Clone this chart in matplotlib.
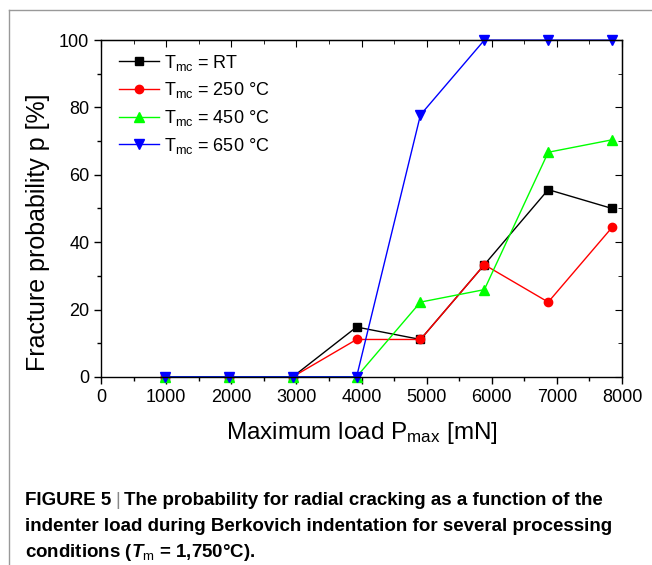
import numpy as np
import matplotlib
matplotlib.use("Agg")
import matplotlib.pyplot as plt
from matplotlib.ticker import MultipleLocator

plt.rcParams['font.family'] = ['Liberation Sans', 'DejaVu Sans']
plt.rcParams['mathtext.fontset'] = 'custom'
plt.rcParams['mathtext.rm'] = 'Liberation Sans'
plt.rcParams['mathtext.it'] = 'Liberation Sans:italic:bold'
plt.rcParams['mathtext.bf'] = 'Liberation Sans:bold'

## donnees (charge en mN, probabilite en %)
charge = [981, 1962, 2943, 3924, 4905, 5886, 6867, 7848]
p_rt = [0, 0, 0, 14.8, 11.1, 33.3, 55.6, 50.0]
p_250 = [0, 0, 0, 11.1, 11.1, 33.3, 22.2, 44.4]
p_450 = [0, 0, 0, 0, 22.2, 25.9, 66.7, 70.4]
p_650 = [0, 0, 0, 0, 77.8, 100, 100, 100]

series = [
    (p_rt, 'k', 's', 5.5, r'$\mathrm{T}_{\mathrm{mc}}$ = RT'),
    (p_250, '#ff0000', 'o', 6, r'$\mathrm{T}_{\mathrm{mc}}$ = 250 °C'),
    (p_450, '#00ff00', '^', 7, r'$\mathrm{T}_{\mathrm{mc}}$ = 450 °C'),
    (p_650, '#0000ff', 'v', 7, r'$\mathrm{T}_{\mathrm{mc}}$ = 650 °C'),
]

fig = plt.figure(figsize=(6.52, 5.65), dpi=100)
ax = fig.add_axes([0.155, 0.333, 0.799, 0.596])

for y, c, m, ms, lab in series:
    ax.plot(charge, y, color=c, marker=m, markersize=ms, lw=1, label=lab, clip_on=False)

ax.set_xlim(0, 8000)
ax.set_ylim(0, 100)
ax.xaxis.set_major_locator(MultipleLocator(1000))
ax.xaxis.set_minor_locator(MultipleLocator(500))
ax.yaxis.set_major_locator(MultipleLocator(20))
ax.yaxis.set_minor_locator(MultipleLocator(10))
ax.tick_params(which='both', direction='out', labelsize=13, width=1)
ax.tick_params(which='major', length=5)
ax.tick_params(which='minor', length=3)
for s in ax.spines.values():
    s.set_linewidth(1)

# ticks interieurs en haut et a droite
top = ax.secondary_xaxis('top')
top.xaxis.set_major_locator(MultipleLocator(1000))
top.xaxis.set_minor_locator(MultipleLocator(500))
top.tick_params(which='both', direction='in', labeltop=False)
top.tick_params(which='major', length=5)
top.tick_params(which='minor', length=3)
right = ax.secondary_yaxis('right')
right.yaxis.set_major_locator(MultipleLocator(20))
right.yaxis.set_minor_locator(MultipleLocator(10))
right.tick_params(which='both', direction='in', labelright=False)
right.tick_params(which='major', length=5)
right.tick_params(which='minor', length=3)

ax.set_xlabel(r'Maximum load P$_{\mathrm{max}}$ [mN]', fontsize=17.5, labelpad=10)
ax.set_ylabel('Fracture probability p [%]', fontsize=18)
ax.yaxis.set_label_coords(-0.098, 0.43)

ax.legend(loc='upper left', frameon=False, fontsize=13, handlelength=2.2,
          borderaxespad=0.3, labelspacing=0.42, handletextpad=0.3,
          bbox_to_anchor=(0.01, 1.0))

# cadre gris
fig.add_artist(plt.Line2D([9/652, 9/652], [0, 1-10/565], color='#999999', lw=1))
fig.add_artist(plt.Line2D([9/652, 1], [1-10/565, 1-10/565], color='#999999', lw=1))

# legende de la figure
fam = ['Liberation Sans']
kw = dict(fontsize=13.5, fontweight='bold', family=fam, va='baseline')
t1 = fig.text(25/652, 1-505/565, 'FIGURE 5', **kw)
t2 = ax.annotate('|', xy=(1, 0), xycoords=t1, xytext=(3, 0), textcoords='offset points',
                 fontsize=13.5, color='#888888', family=fam, va='bottom')
ax.annotate('The probability for radial cracking as a function of the',
            xy=(1, 0), xycoords=t2, xytext=(3, 0), textcoords='offset points',
            fontsize=13.5, fontweight='bold', family=fam, va='bottom')
fig.text(25/652, 1-531/565, 'indenter load during Berkovich indentation for several processing', **kw)
fig.text(25/652, 1-557/565, r'conditions ($\mathit{T}_{\mathrm{m}}$ = 1,750°C).', **kw)

fig.savefig('out.png', dpi=100)
